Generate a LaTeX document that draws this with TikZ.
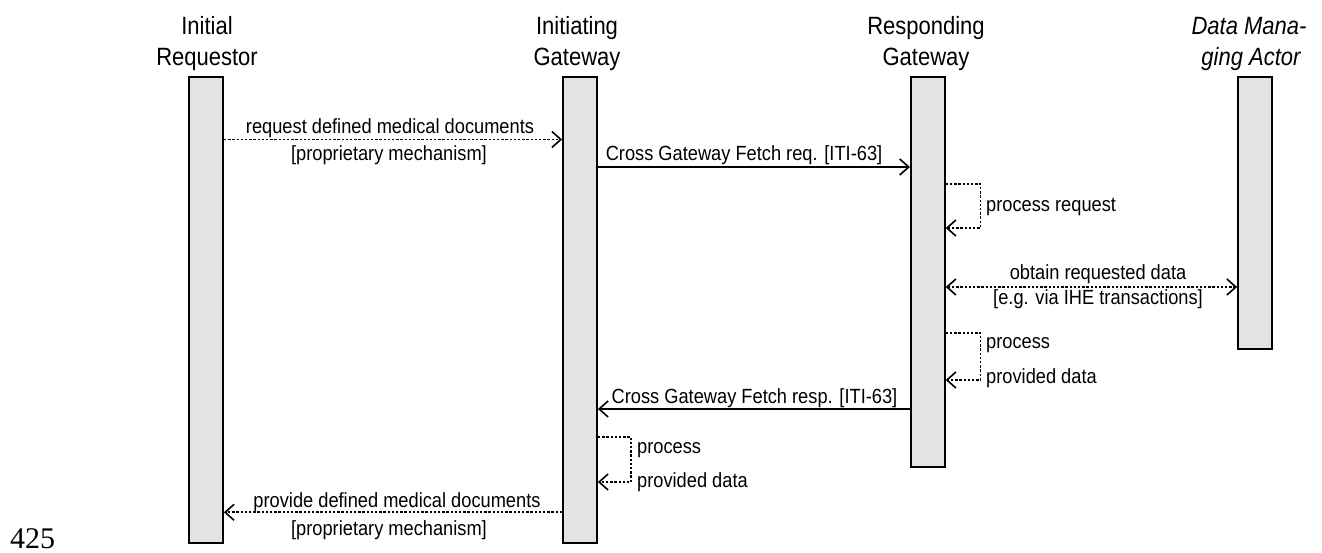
\documentclass[tikz,border=0pt]{standalone}
\usepackage{fontspec}
\setmainfont{Liberation Sans}
\newfontfamily\hdrfont[FakeStretch=0.88]{Liberation Sans}
\newfontfamily\lblfont[FakeStretch=0.89]{Liberation Sans}
\newfontfamily\numfont{Liberation Serif}
\usetikzlibrary{arrows.meta}
\definecolor{barfill}{HTML}{E3E3E3}
\tikzset{
  bar/.style={draw=black, fill=barfill, line width=1.8pt, minimum width=34pt, anchor=north, inner sep=0pt},
  hdr/.style={font=\hdrfont\fontsize{25pt}{31pt}\selectfont, inner sep=0pt, anchor=base},
  hdri/.style={hdr, font=\hdrfont\fontsize{25pt}{31pt}\selectfont\itshape},
  lbl/.style={font=\lblfont\fontsize{20.5pt}{24pt}\selectfont, inner sep=0pt, anchor=base},
  lblw/.style={lbl, anchor=base west},
  msg/.style={line width=1.6pt, -{Straight Barb[length=9pt,width=16pt,line width=1.6pt]}},
  dmsg/.style={msg, line width=1.7pt, dash pattern=on 2.4pt off 1.8pt},
  loopline/.style={line width=1.7pt, dash pattern=on 2.4pt off 1.8pt, -{Straight Barb[length=9pt,width=16pt,line width=1.6pt]}},
}
\begin{document}
\begin{tikzpicture}[x=1pt,y=-1pt]
\useasboundingbox (0,0) rectangle (1322,552);

% headers
\node[hdr] (h1a) at (207,34) {Initial};
\node[hdr] (h1b) at (207,65) {Requestor};
\node[hdr] (h2a) at (577,34) {Initiating};
\node[hdr] (h2b) at (577,65) {Gateway};
\node[hdr] (h3a) at (926,34) {Responding};
\node[hdr] (h3b) at (926,65) {Gateway};
\node[hdri] (h4a) at (1249,34) {Data Mana-};
\node[hdri] (h4b) at (1251,65) {ging Actor};

% lifeline bars
\node[bar, minimum height=466pt] (b1) at (206,76) {};
\node[bar, minimum height=466pt] (b2) at (580,76) {};
\node[bar, minimum height=390pt] (b3) at (927.8,76) {};
\node[bar, minimum height=272pt] (b4) at (1255,76) {};

% row coordinates
\coordinate (y1) at (0,139.5);
\coordinate (y2) at (0,167);
\coordinate (y3a) at (0,184);
\coordinate (y3b) at (0,228);
\coordinate (y4) at (0,287);
\coordinate (y5a) at (0,332.7);
\coordinate (y5b) at (0,380);
\coordinate (y6) at (0,409);
\coordinate (y7a) at (0,437);
\coordinate (y7b) at (0,482);
\coordinate (y8) at (0,512.3);

% 1: request defined medical documents
\draw[dmsg] (b1.east |- y1) -- (b2.west |- y1);
\node[lbl] (l1a) at (390,133) {request defined medical documents};
\node[lbl] (l1b) at (389,160) {[proprietary mechanism]};

% 2: Cross Gateway Fetch req.
\draw[msg] (b2.east |- y2) -- (b3.west |- y2);
\node[lbl] (l2) at (744,160.5) {Cross Gateway Fetch req. [ITI-63]};

% 3: process request
\coordinate (c3a) at (980.5,184);
\coordinate (c3b) at (980.5,228);
\draw[loopline] (b3.east |- y3a) -- (c3a) -- (c3b) -- (b3.east |- y3b);
\node[lblw] (l3) at (986,211) {process request};

% 4: obtain requested data
\draw[dmsg, {Straight Barb[length=9pt,width=16pt,line width=1.6pt]}-{Straight Barb[length=9pt,width=16pt,line width=1.6pt]}] (b3.east |- y4) -- (b4.west |- y4);
\node[lbl] (l4a) at (1098,279.5) {obtain requested data};
\node[lbl] (l4b) at (1098,304) {[e.g. via IHE transactions]};

% 5: process provided data (responding gateway)
\coordinate (c5a) at (980.5,332.7);
\coordinate (c5b) at (980.5,380);
\draw[loopline] (b3.east |- y5a) -- (c5a) -- (c5b) -- (b3.east |- y5b);
\node[lblw] (l5a) at (986,348.3) {process};
\node[lblw] (l5b) at (986,383) {provided data};

% 6: Cross Gateway Fetch resp.
\draw[msg] (b3.west |- y6) -- (b2.east |- y6);
\node[lbl] (l6) at (754.5,403) {Cross Gateway Fetch resp. [ITI-63]};

% 7: process provided data (initiating gateway)
\coordinate (c7a) at (631,437);
\coordinate (c7b) at (631,482);
\draw[loopline] (b2.east |- y7a) -- (c7a) -- (c7b) -- (b2.east |- y7b);
\node[lblw] (l7a) at (637,453) {process};
\node[lblw] (l7b) at (637,487.5) {provided data};

% 8: provide defined medical documents
\draw[dmsg] (b2.west |- y8) -- (b1.east |- y8);
\node[lbl] (l8a) at (397,507.5) {provide defined medical documents};
\node[lbl] (l8b) at (389,535) {[proprietary mechanism]};

% page number
\node[font=\numfont\fontsize{30pt}{36pt}\selectfont, inner sep=0pt, anchor=base west] (pg) at (10,548) {425};
\end{tikzpicture}
\end{document}
